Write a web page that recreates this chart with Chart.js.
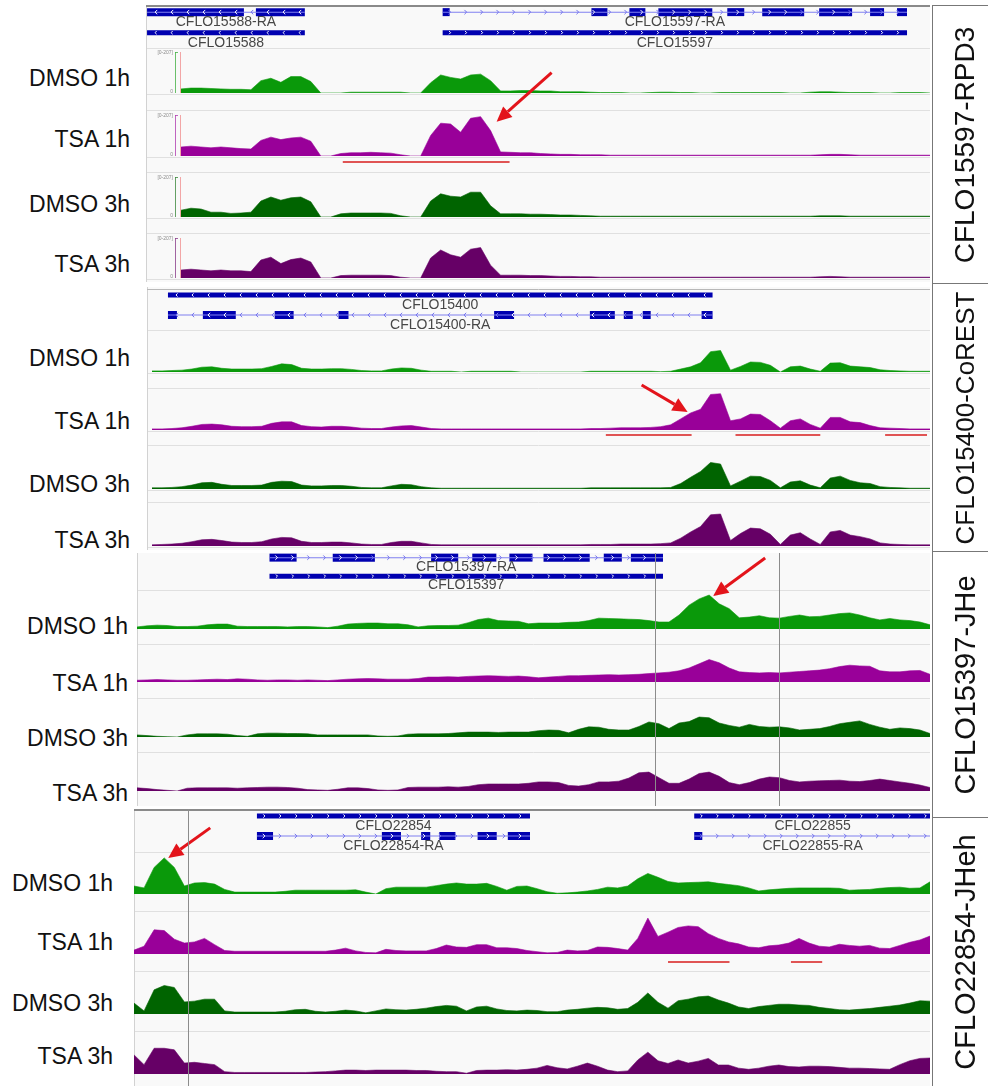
<!DOCTYPE html>
<html>
<head>
<meta charset="utf-8">
<title>Coverage tracks</title>
<script src="https://cdn.jsdelivr.net/npm/chart.js@4.4.1/dist/chart.umd.min.js"></script>
<style>
  html, body { margin: 0; padding: 0; background: #fff; }
  body { position: relative; width: 988px; height: 1086px; overflow: hidden; font-family: Arial, "Liberation Sans", sans-serif; }
  .panel { position: absolute; }
  .panel canvas { position: absolute; left: 0; top: 0; }
  .sample { position: absolute; font-size: 23px; color: #111; white-space: nowrap; transform: translate(-100%, -50%); }
  .gene-box { position: absolute; left: 932px; width: 64px; border-left: 1px solid #777; border-top: 1px solid #777; box-sizing: border-box; }
  .gene-box span { position: absolute; left: 50%; top: 50%; transform: translate(-50%, -50%) rotate(-90deg); white-space: nowrap; color: #111; }
</style>
</head>
<body>
<script>
const sampleNames = ['DMSO 1h', 'TSA 1h', 'DMSO 3h', 'TSA 3h'];
const sampleColors = ['#0a990a', '#990099', '#006400', '#660066'];
const regionNames = ['CFLO15597-RPD3', 'CFLO15400-CoREST', 'CFLO15397-JHe', 'CFLO22854-JHeh'];

// coverage per bin, 0-100 of the track's data range
const rpd3Dmso1h = [10,12,12,11,10,9,9,8,30,36, 26,40,40,28,0,0,0,2,2,2, 2,2,2,0,0,25,44,38,34,44,
  46,30,5,5,6,6,5,5,3,3, 3,2,1,1,1,0,0,1,2,2, 1,1,0,0,1,1,1,1,1,1, 1,0,0,2,3,3,2,1,1,1, 0,0,1,1,1,0];
const rpd3Tsa1h = [22,24,22,20,22,20,18,17,38,46, 40,44,46,36,0,0,6,8,8,9, 8,7,3,0,0,50,80,78,58,92,
  96,62,10,9,8,8,6,5,4,4, 3,3,3,2,2,2,2,2,2,2, 2,2,2,2,2,2,2,2,2,2, 2,2,2,2,3,4,4,3,2,2, 2,2,2,2,2,2];
const rpd3Dmso3h = [17,22,20,12,12,9,10,12,40,50, 42,48,50,38,0,0,8,10,10,10, 10,9,3,0,0,40,58,52,50,62,
  62,28,8,8,8,7,7,6,5,5, 4,3,2,2,2,2,2,2,2,2, 2,2,2,2,2,2,2,2,2,2, 2,2,2,2,3,3,3,2,2,2, 2,2,2,2,2,2];
const rpd3Tsa3h = [20,22,20,18,20,18,18,16,45,52, 36,46,50,40,0,0,6,7,7,7, 7,6,2,0,0,50,70,58,52,72,
  76,32,7,7,7,6,6,5,4,4, 3,3,2,2,2,2,2,2,2,2, 2,2,2,2,2,2,2,2,2,2, 2,2,2,2,3,4,3,2,2,2, 2,2,2,2,2,2];

const corestDmso1h = [3,3,4,5,8,13,14,10,8,8, 8,9,15,22,20,10,8,8,9,9, 7,4,3,3,8,11,10,5,2,2,
  2,0,2,2,2,2,2,0,0,0, 0,0,0,0,2,2,2,2,2,2, 2,1,2,8,14,25,55,58,5,15, 27,26,18,0,14,16,8,2,24,25, 16,14,12,6,4,3,2,2,2];
const corestTsa1h = [3,3,4,6,10,15,16,14,10,9, 9,10,18,22,22,12,9,8,10,10, 8,5,4,4,8,11,12,8,4,3,
  3,3,3,3,3,3,3,3,3,3, 3,3,3,3,4,4,5,6,6,6, 7,9,14,30,46,56,96,98,25,30, 43,42,25,5,25,30,15,5,34,34, 22,20,12,6,5,4,3,3,3];
const corestDmso3h = [3,3,4,6,10,16,17,12,9,9, 9,10,17,20,19,10,8,8,9,9, 7,4,3,3,8,12,11,6,3,2,
  2,2,2,2,2,2,2,2,2,2, 2,2,2,2,3,3,3,3,3,3, 3,3,4,14,30,45,68,64,8,20, 33,32,22,3,18,21,10,3,28,33, 22,16,14,6,4,3,2,2,2];
const corestTsa3h = [3,4,5,7,11,16,17,14,10,9, 9,11,18,22,21,12,9,9,10,10, 8,5,4,4,9,12,12,8,4,3,
  3,3,3,3,3,3,3,3,3,3, 3,3,3,3,4,4,4,5,5,5, 5,6,8,20,36,50,80,82,14,32, 46,44,30,4,28,34,18,4,36,40, 28,24,18,8,5,4,3,3,3];

const jheDmso1h = [6,9,11,10,7,7,8,12,14,14, 8,7,7,7,7,6,7,7,6,4, 8,14,16,17,17,15,15,12,6,9, 10,10,11,18,27,31,24,23,22,15,
  17,17,17,19,20,24,31,30,29,28, 27,24,20,20,40,68,86,97,72,58, 32,34,38,32,31,36,40,35,36,40, 44,46,40,32,26,30,26,24,20,12];
const jheTsa1h = [5,6,7,6,5,5,6,7,8,7, 9,8,6,5,6,6,5,6,5,4, 6,8,9,10,9,8,8,8,10,14, 14,15,14,16,17,18,17,16,17,15,
  12,14,16,18,18,19,20,21,20,21, 22,24,26,28,32,40,52,64,55,40, 29,27,26,27,26,28,30,32,34,38, 44,48,46,45,32,29,29,32,33,22];
const jheDmso3h = [6,4,2,1,0,6,9,9,9,8, 4,2,9,11,11,10,10,9,6,6, 6,6,6,6,3,2,3,8,9,9, 9,10,12,14,14,14,13,14,14,14,
  18,20,19,12,22,29,28,22,20,20, 30,43,38,24,40,44,57,55,40,33, 28,36,30,28,29,26,20,22,24,30, 38,42,46,36,28,22,26,24,20,10];
const jheTsa3h = [9,7,4,2,0,8,9,9,9,9, 8,9,10,11,11,10,8,4,3,2, 5,9,9,7,3,2,3,10,11,11, 11,12,11,13,18,20,20,20,20,22,
  26,26,24,16,14,18,26,26,28,37, 52,54,38,22,22,34,50,54,42,24, 18,24,34,40,38,30,26,28,29,30, 31,28,27,30,34,30,26,22,17,10];

const jhehDmso1h = [21,16,70,95,70,21,29,30,26,12, 5,5,5,5,5,7,10,10,10,10, 10,10,11,5,0,14,18,18,18,18, 22,26,29,26,26,28,20,10,20,21,
  14,6,2,3,5,8,12,18,16,21, 40,54,44,33,29,30,31,32,28,25, 22,16,8,11,13,15,16,16,16,16, 15,10,11,12,15,17,18,15,16,32];
const jhehTsa1h = [10,20,62,60,38,28,31,40,24,9, 7,7,7,7,7,7,7,7,7,7, 10,15,8,4,3,12,9,8,8,8, 14,23,18,17,24,24,16,16,14,9,
  6,3,4,10,8,9,18,17,14,10, 40,92,45,56,68,72,70,52,40,31, 26,18,16,21,23,28,40,28,20,18, 25,22,20,22,15,14,22,30,36,46];
const jhehDmso3h = [28,8,62,73,68,31,33,38,38,8, 5,5,5,5,5,7,11,12,7,5, 7,10,8,3,8,13,11,10,12,15, 19,22,20,8,18,20,13,9,8,10,
  9,6,6,10,12,15,17,16,12,14, 30,54,30,15,34,38,44,46,36,28, 18,14,19,22,25,25,23,22,17,14, 11,10,12,14,17,20,23,28,34,33];
const jhehTsa3h = [49,24,66,66,62,28,30,27,24,6, 4,4,4,4,4,4,4,4,5,6, 8,10,10,9,10,10,10,10,9,9, 7,6,6,2,9,10,10,11,10,12,
  15,22,16,13,20,28,20,10,6,8, 36,56,34,27,36,28,33,40,23,23, 15,12,15,20,23,19,18,20,20,19, 17,15,15,14,13,12,24,34,40,41];

// gene models, positions in bins; lane 0 = upper row, lane 2 = lower row
const rpd3Features = [
  { name: 'CFLO15588-RA', lane: 0, strand: -1, span: [-3.4, 12.4], exons: [[-3.4, 6.3], [7.5, 12.4]] },
  { name: 'CFLO15588', lane: 2, strand: -1, span: [-3.4, 12.4] },
  { name: 'CFLO15597-RA', lane: 0, strand: 1, span: [26.2, 72.7],
    exons: [[26.2, 26.9], [41.1, 42.7], [44.9, 46.5], [47.8, 53.2], [54.7, 56.4], [58.2, 62.4], [63.9, 67.2], [69.0, 70.4], [71.7, 72.7]] },
  { name: 'CFLO15597', lane: 2, strand: 1, span: [26.2, 72.7] }
];
const corestFeatures = [
  { name: 'CFLO15400', lane: 0, strand: -1, span: [1.6, 56.2] },
  { name: 'CFLO15400-RA', lane: 2, strand: -1, span: [1.6, 56.2],
    exons: [[1.6, 2.5], [5.1, 8.4], [12.3, 14.2], [18.7, 19.7], [34.3, 36.3], [43.9, 46.4], [47.3, 48.2], [49.2, 50.0], [55.1, 56.2]] }
];
const jheFeatures = [
  { name: 'CFLO15397-RA', lane: 0, strand: 1, span: [13.2, 52.4],
    exons: [[13.2, 15.9], [19.5, 23.7], [29.3, 32.0], [33.4, 35.8], [37.1, 39.4], [40.5, 45.1], [46.5, 48.3], [49.2, 52.4]] },
  { name: 'CFLO15397', lane: 2, strand: 1, span: [13.2, 52.4] }
];
const jhehFeatures = [
  { name: 'CFLO22854', lane: 0, strand: 1, span: [12.2, 39.3] },
  { name: 'CFLO22854-RA', lane: 2, strand: 1, span: [12.2, 39.3],
    exons: [[12.2, 13.8], [24.6, 26.5], [28.5, 29.4], [30.3, 31.9], [34.1, 36.0], [37.1, 39.3]] },
  { name: 'CFLO22855', lane: 0, strand: 1, span: [55.6, 79.1] },
  { name: 'CFLO22855-RA', lane: 2, strand: 1, span: [55.6, 79.1], exons: [[55.6, 56.4]] }
];

// highlighted regions (bins) and arrow targets (bin index)
const rpd3Underlines = [[16.2, 32.9]];
const corestUnderlines = [[45.5, 54.1], [58.5, 67.0], [73.5, 77.7]];
const jhehUnderlines = [[53.0, 59.1], [65.2, 68.3]];
const jheMarkers = [51.6, 64.0];
const jhehMarkers = [5.4];
const arrowBins = [30, 54, 57, 3];

const panels = [
  { features: rpd3Features, tracks: [rpd3Dmso1h, rpd3Tsa1h, rpd3Dmso3h, rpd3Tsa3h], underlines: rpd3Underlines, markers: [],
    layout: { left: 146, right: 930, top: 5, bottom: 282, xStart: 181, xEnd: 930, geneTop: 7, geneBottom: 48,
      tracks: [[52, 93], [115, 156], [177, 217], [238, 278]], lines: [48, 94, 110, 157, 172, 218, 233, 279],
      labelY: [78, 139, 204, 264], labelRight: 130, frame: { y: 5, color: '#8a8a8a', width: 2 }, rangeAxis: true,
      underlineTrack: 1, underlineGap: 6, arrowTrack: 1, arrowTip: [16, 5], arrowTail: [55, -49] } },
  { features: corestFeatures, tracks: [corestDmso1h, corestTsa1h, corestDmso3h, corestTsa3h], underlines: corestUnderlines, markers: [],
    layout: { left: 147, right: 930, top: 287, bottom: 550, xStart: 152, xEnd: 930, geneTop: 290, geneBottom: 330,
      tracks: [[335, 372], [393, 430], [450, 489], [507, 546]], lines: [330, 373, 388, 431, 445, 490, 502, 547],
      labelY: [358, 421, 484, 540], labelRight: 130, frame: { y: 289, color: '#b8b8b8', width: 1 },
      underlineTrack: 1, underlineGap: 5, arrowTrack: 1, arrowTip: [-3, -1], arrowTail: [-46, -27] } },
  { features: jheFeatures, tracks: [jheDmso1h, jheTsa1h, jheDmso3h, jheTsa3h], underlines: [], markers: jheMarkers,
    layout: { left: 137, right: 930, top: 553, bottom: 806, xStart: 137, xEnd: 930, geneTop: 553, geneBottom: 590,
      tracks: [[594, 629], [647, 682], [702, 737], [756, 791]], lines: [590, 644, 698, 752],
      labelY: [626, 683, 738, 793], labelRight: 128, frame: null,
      underlineTrack: -1, underlineGap: 0, arrowTrack: 0, arrowTip: [4, 1], arrowTail: [52, -38] } },
  { features: jhehFeatures, tracks: [jhehDmso1h, jhehTsa1h, jhehDmso3h, jhehTsa3h], underlines: jhehUnderlines, markers: jhehMarkers,
    layout: { left: 134, right: 930, top: 809, bottom: 1086, xStart: 134, xEnd: 930, geneTop: 811, geneBottom: 851,
      tracks: [[856, 894], [915, 954], [975, 1014], [1035, 1074]], lines: [852, 911, 971, 1031],
      labelY: [883, 942, 1003, 1056], labelRight: 113, frame: { y: 809, color: '#8a8a8a', width: 2 },
      underlineTrack: 1, underlineGap: 8, arrowTrack: 0, arrowTip: [4, 0], arrowTail: [42, -30] } }
];

const boxEdges = [5, 283, 551, 817, 1086];
const boxFontSizes = [28, 26, 29, 29];

function xBounds(L, n) {
  const step = (L.xEnd - L.xStart) / (n - 1);
  return { min: -(L.xStart - L.left) / step, max: (n - 1) + (L.right - L.xEnd) / step };
}

function makeCanvas(host, w, h) {
  const c = document.createElement('canvas');
  c.width = w;
  c.height = h;
  c.style.width = w + 'px';
  c.style.height = h + 'px';
  host.appendChild(c);
  return c;
}

function drawArrow(ctx, x0, y0, x1, y1) {
  const a = Math.atan2(y1 - y0, x1 - x0);
  const head = 15, half = 7;
  const bx = x1 - head * Math.cos(a), by = y1 - head * Math.sin(a);
  ctx.save();
  ctx.strokeStyle = '#e3141b';
  ctx.fillStyle = '#e3141b';
  ctx.lineWidth = 3;
  ctx.beginPath();
  ctx.moveTo(x0, y0);
  ctx.lineTo(bx, by);
  ctx.stroke();
  ctx.beginPath();
  ctx.moveTo(x1, y1);
  ctx.lineTo(bx + half * Math.sin(a), by - half * Math.cos(a));
  ctx.lineTo(bx - half * Math.sin(a), by + half * Math.cos(a));
  ctx.closePath();
  ctx.fill();
  ctx.restore();
}

function geneChart(host, p, w, h) {
  const L = p.layout;
  const b = xBounds(L, p.tracks[0].length);
  const introns = [], bodies = [], exons = [];
  p.features.forEach(f => {
    if (f.exons) {
      introns.push({ x: f.span, y: f.lane });
      f.exons.forEach(e => exons.push({ x: e, y: f.lane }));
    } else {
      bodies.push({ x: f.span, y: f.lane });
    }
  });

  const panelBg = {
    id: 'panelBg',
    beforeDraw(chart) {
      const ctx = chart.ctx;
      ctx.save();
      ctx.fillStyle = '#f9f9f9';
      ctx.fillRect(0, 0, w, h);
      ctx.strokeStyle = '#e0e0e0';
      ctx.lineWidth = 1;
      L.lines.forEach(y => {
        const yy = Math.round(y - L.top) + 0.5;
        ctx.beginPath(); ctx.moveTo(0, yy); ctx.lineTo(w, yy); ctx.stroke();
      });
      ctx.strokeStyle = '#d2d2d2';
      ctx.beginPath(); ctx.moveTo(0.5, 0); ctx.lineTo(0.5, h); ctx.stroke();
      if (L.frame) {
        ctx.strokeStyle = L.frame.color;
        ctx.lineWidth = L.frame.width;
        const fy = L.frame.y - L.top + L.frame.width / 2;
        ctx.beginPath(); ctx.moveTo(0, fy); ctx.lineTo(w, fy); ctx.stroke();
      }
      ctx.restore();
    }
  };

  const geneMarks = {
    id: 'geneMarks',
    afterDatasetsDraw(chart) {
      const ctx = chart.ctx, xs = chart.scales.x, ys = chart.scales.y;
      ctx.save();
      p.features.forEach(f => {
        const y = ys.getPixelForValue(f.lane);
        const x0 = xs.getPixelForValue(f.span[0]), x1 = xs.getPixelForValue(f.span[1]);
        const inBlock = x => !f.exons || f.exons.some(e => x >= xs.getPixelForValue(e[0]) + 2 && x <= xs.getPixelForValue(e[1]) - 2);
        const s = f.exons ? 2.2 : 1.6;
        ctx.lineWidth = 1;
        for (let x = x0 + 8; x < x1 - 4; x += 16) {
          ctx.strokeStyle = inBlock(x) ? '#ffffff' : '#7474ee';
          ctx.beginPath();
          ctx.moveTo(x - s * f.strand, y - s);
          ctx.lineTo(x, y);
          ctx.lineTo(x - s * f.strand, y + s);
          ctx.stroke();
        }
        ctx.fillStyle = '#474747';
        ctx.font = '14px Arial, "Liberation Sans", sans-serif';
        ctx.textAlign = 'center';
        ctx.textBaseline = 'middle';
        ctx.fillText(f.name, (x0 + x1) / 2, ys.getPixelForValue(f.lane + 1));
      });
      ctx.restore();
    }
  };

  new Chart(makeCanvas(host, w, h), {
    type: 'bar',
    data: {
      datasets: [
        { data: introns, backgroundColor: '#8080f0', maxBarThickness: 1, grouped: false },
        { data: bodies, backgroundColor: '#0000b0', maxBarThickness: 5, grouped: false },
        { data: exons, backgroundColor: '#0000b0', maxBarThickness: 8, grouped: false }
      ]
    },
    options: {
      indexAxis: 'y',
      responsive: false,
      animation: false,
      events: [],
      layout: { padding: { top: L.geneTop - L.top, bottom: h - (L.geneBottom - L.top), left: 0, right: 0 } },
      scales: {
        x: { type: 'linear', min: b.min, max: b.max, display: false },
        y: { type: 'linear', min: -0.5, max: 3.5, reverse: true, offset: false, display: false }
      },
      plugins: { legend: { display: false }, tooltip: { enabled: false } }
    },
    plugins: [panelBg, geneMarks]
  });
}

function trackChart(host, p, idx, w, h, isLast) {
  const L = p.layout;
  const values = p.tracks[idx];
  const color = sampleColors[idx];
  const b = xBounds(L, values.length);
  const [top, base] = L.tracks[idx];

  const extras = {
    id: 'trackExtras',
    afterDraw(chart) {
      const ctx = chart.ctx, xs = chart.scales.x, ys = chart.scales.y, area = chart.chartArea;
      ctx.save();
      if (L.rangeAxis) {
        const x0 = xs.getPixelForValue(0);
        ctx.strokeStyle = '#f2a6a6';
        ctx.lineWidth = 1;
        ctx.beginPath(); ctx.moveTo(x0 - 0.5, area.top); ctx.lineTo(x0 - 0.5, area.bottom); ctx.stroke();
        ctx.strokeStyle = color;
        ctx.globalAlpha = 0.6;
        ctx.beginPath(); ctx.moveTo(x0 - 5.5, area.top); ctx.lineTo(x0 - 5.5, area.bottom);
        ctx.moveTo(x0 - 5.5, area.top + 0.5); ctx.lineTo(x0 - 3, area.top + 0.5); ctx.stroke();
        ctx.globalAlpha = 1;
        ctx.fillStyle = '#8a8a8a';
        ctx.font = '5px Arial, "Liberation Sans", sans-serif';
        ctx.textAlign = 'right';
        ctx.textBaseline = 'middle';
        ctx.fillText('[0-207]', x0 - 8, area.top + 1);
        ctx.fillText('0', x0 - 8, area.bottom - 1);
      }
      if (idx === L.underlineTrack) {
        ctx.strokeStyle = '#e05454';
        ctx.lineWidth = 2;
        p.underlines.forEach(r => {
          const y = area.bottom + L.underlineGap;
          ctx.beginPath(); ctx.moveTo(xs.getPixelForValue(r[0]), y); ctx.lineTo(xs.getPixelForValue(r[1]), y); ctx.stroke();
        });
      }
      if (isLast && p.markers.length) {
        ctx.strokeStyle = '#8c8c8c';
        ctx.lineWidth = 1;
        p.markers.forEach(m => {
          const x = Math.round(xs.getPixelForValue(m)) + 0.5;
          ctx.beginPath(); ctx.moveTo(x, 0); ctx.lineTo(x, h); ctx.stroke();
        });
      }
      if (idx === L.arrowTrack) {
        const bin = arrowBins[panels.indexOf(p)];
        const tx = xs.getPixelForValue(bin) + L.arrowTip[0];
        const ty = ys.getPixelForValue(values[bin]) + L.arrowTip[1];
        drawArrow(ctx, tx + L.arrowTail[0], ty + L.arrowTail[1], tx, ty);
      }
      ctx.restore();
    }
  };

  new Chart(makeCanvas(host, w, h), {
    type: 'line',
    data: {
      datasets: [{
        data: values.map((v, i) => ({ x: i, y: v })),
        borderColor: color,
        backgroundColor: color,
        borderWidth: 0.6,
        pointRadius: 0,
        fill: 'origin',
        tension: 0
      }]
    },
    options: {
      responsive: false,
      animation: false,
      events: [],
      layout: { padding: { top: top - L.top, bottom: h - (base - L.top), left: 0, right: 0 } },
      scales: {
        x: { type: 'linear', min: b.min, max: b.max, display: false },
        y: { min: 0, max: 100, display: false }
      },
      plugins: { legend: { display: false }, tooltip: { enabled: false } }
    },
    plugins: [extras]
  });
}

panels.forEach(p => {
  const L = p.layout;
  const w = L.right - L.left, h = L.bottom - L.top;
  const host = document.createElement('div');
  host.className = 'panel';
  host.style.left = L.left + 'px';
  host.style.top = L.top + 'px';
  host.style.width = w + 'px';
  host.style.height = h + 'px';
  document.body.appendChild(host);

  geneChart(host, p, w, h);
  p.tracks.forEach((t, i) => trackChart(host, p, i, w, h, i === p.tracks.length - 1));

  sampleNames.forEach((name, i) => {
    const d = document.createElement('div');
    d.className = 'sample';
    d.textContent = name;
    d.style.left = L.labelRight + 'px';
    d.style.top = L.labelY[i] + 'px';
    document.body.appendChild(d);
  });
});

regionNames.forEach((name, i) => {
  const box = document.createElement('div');
  box.className = 'gene-box';
  box.style.top = boxEdges[i] + 'px';
  box.style.height = (boxEdges[i + 1] - boxEdges[i]) + 'px';
  const s = document.createElement('span');
  s.textContent = name;
  s.style.fontSize = boxFontSizes[i] + 'px';
  box.appendChild(s);
  document.body.appendChild(box);
});
</script>
</body>
</html>
